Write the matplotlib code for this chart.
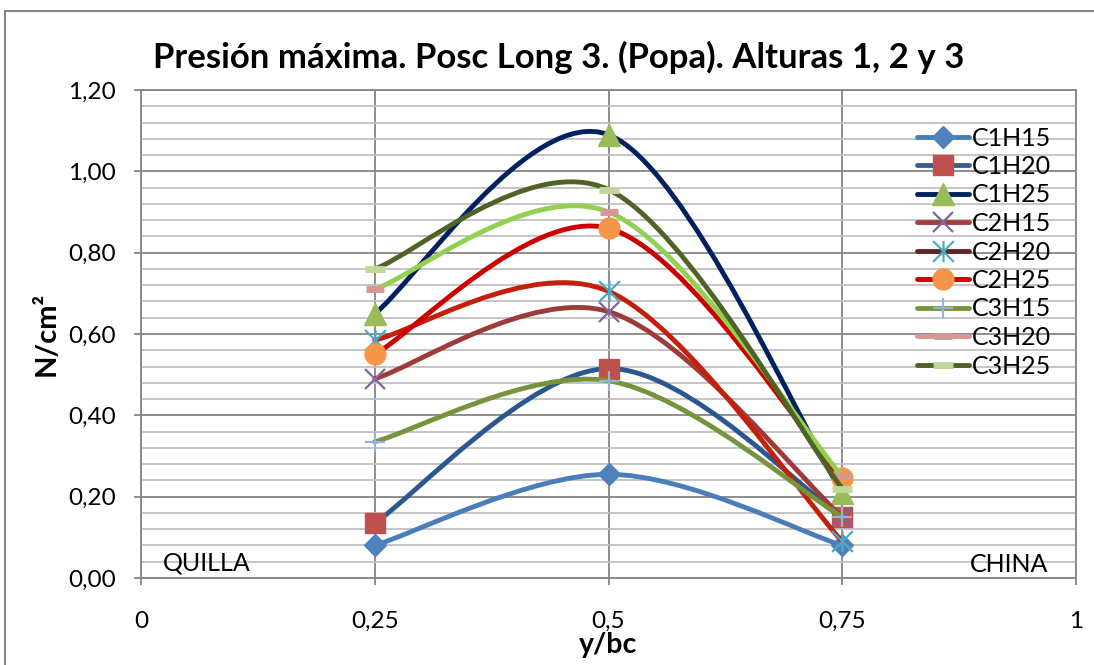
import numpy as np
import matplotlib
matplotlib.use("Agg")
import matplotlib.pyplot as plt
from matplotlib.path import Path
from matplotlib.patches import PathPatch, Rectangle
from matplotlib.lines import Line2D
from matplotlib.ticker import MultipleLocator, FixedLocator, FuncFormatter

plt.rcParams['font.family'] = ['Lato', 'DejaVu Sans']

# data
y_bc = [0.25, 0.5, 0.75]
names = ['C1H15', 'C1H20', 'C1H25', 'C2H15', 'C2H20', 'C2H25', 'C3H15', 'C3H20', 'C3H25']
c1h15 = [0.08, 0.255, 0.08]
c1h20 = [0.135, 0.515, 0.15]
c1h25 = [0.65, 1.09, 0.21]
c2h15 = [0.49, 0.655, 0.15]
c2h20 = [0.585, 0.705, 0.09]
c2h25 = [0.55, 0.86, 0.245]
c3h15 = [0.335, 0.485, 0.15]
c3h20 = [0.71, 0.90, 0.25]
c3h25 = [0.76, 0.955, 0.22]
values = [c1h15, c1h20, c1h25, c2h15, c2h20, c2h25, c3h15, c3h20, c3h25]

# excel-like asterisk marker (x with a vertical bar)
asterisk = Path([(-1, -1), (1, 1), (-1, 1), (1, -1), (0, -1), (0, 1)],
                [Path.MOVETO, Path.LINETO] * 3)

# (plot line colour, legend line colour, marker, marker face, marker edge, size, edge width)
styles = [
    ('#4A7EBB', '#4A7EBB', 'D', '#4F81BD', '#4F81BD', 11, 1),
    ('#2B5690', '#35608F', 's', '#C0504D', '#C0504D', 14, 1),
    ('#002060', '#002060', '^', '#9BBB59', '#9BBB59', 16, 1),
    ('#9E3B38', '#A0403D', 'x', 'none', '#8064A2', 15, 1.6),
    ('#C41F0A', '#632523', asterisk, 'none', '#4BACC6', 15, 1.6),
    ('#CC0000', '#CC0000', 'o', '#F79646', '#F79646', 15, 1),
    ('#77933C', '#77933C', '+', 'none', '#95B3D7', 15, 1.6),
    ('#92D050', '#D99694', '_', 'none', '#D99694', 13, 5),
    ('#4F6228', '#4F6228', '_', 'none', '#C3D69B', 15, 5),
]


def smooth_path(xs, ys):
    # catmull-rom style bezier, like excel's smoothed lines
    pts = np.column_stack([xs, ys]).astype(float)
    n = len(pts)
    verts = [pts[0]]
    codes = [Path.MOVETO]
    for i in range(n - 1):
        p0 = pts[max(i - 1, 0)]
        p1 = pts[i]
        p2 = pts[i + 1]
        p3 = pts[min(i + 2, n - 1)]
        verts += [p1 + (p2 - p0) / 6, p2 - (p3 - p1) / 6, p2]
        codes += [Path.CURVE4] * 3
    return Path(verts, codes)


fig = plt.figure(figsize=(10.94, 6.65), dpi=100)
ax = fig.add_axes([141 / 1094, 1 - 578 / 665, (1076 - 141) / 1094, (578 - 90) / 665])

grid_dark = '#868686'
grid_light = '#C0C0C0'

handles = []
for i, (name, vals, st) in enumerate(zip(names, values, styles)):
    lc, legc, mk, mfc, mec, ms, mew = st
    ax.add_patch(PathPatch(smooth_path(y_bc, vals), facecolor='none', edgecolor=lc,
                           lw=3.5, capstyle='round', joinstyle='round', zorder=3 + i * 0.1))
    ax.plot(y_bc, vals, linestyle='none', marker=mk, ms=ms, mfc=mfc, mec=mec, mew=mew,
            zorder=3.05 + i * 0.1)
    handles.append(Line2D([], [], color=legc, lw=3.5, solid_capstyle='round', marker=mk,
                          ms=ms, mfc=mfc, mec=mec, mew=mew))

ax.set_xlim(0, 1)
ax.set_ylim(0, 1.2)
ax.xaxis.set_major_locator(FixedLocator([0, 0.25, 0.5, 0.75, 1]))
ax.yaxis.set_major_locator(MultipleLocator(0.2))
ax.yaxis.set_minor_locator(MultipleLocator(0.04))
ax.xaxis.set_major_formatter(FuncFormatter(lambda v, p: ('%g' % v).replace('.', ',')))
ax.yaxis.set_major_formatter(FuncFormatter(lambda v, p: ('%.2f' % v).replace('.', ',')))

ax.grid(which='major', axis='both', color=grid_dark, lw=1.3, zorder=1)
ax.grid(which='minor', axis='y', color=grid_light, lw=1.3, zorder=0.5)
ax.set_axisbelow(True)
for s in ax.spines.values():
    s.set_color(grid_dark)
    s.set_linewidth(1.3)
ax.tick_params(axis='both', which='major', direction='out', length=5, width=1.3,
               color=grid_dark, labelsize=17.5, labelcolor='black')
ax.tick_params(axis='x', pad=19)
ax.tick_params(axis='y', pad=13)
ax.tick_params(which='minor', length=0)

fig.text(559 / 1094, 1 - 57 / 665, 'Presión máxima. Posc Long 3. (Popa). Alturas 1, 2 y 3',
         fontsize=25, fontweight='bold', ha='center', va='center')
ax.set_ylabel('N/cm²', fontsize=21, fontweight='bold', labelpad=6)
ax.set_xlabel('y/bc', fontsize=20.5, fontweight='bold', labelpad=0)

ax.text(0.0235, 0.031, 'QUILLA', transform=ax.transAxes, fontsize=18, va='center', ha='left')
ax.text(0.970, 0.027, 'CHINA', transform=ax.transAxes, fontsize=18, va='center', ha='right')

leg = ax.legend(handles, names, loc='upper left', bbox_to_anchor=(904 / 1094, 1 - 114 / 665),
                bbox_transform=fig.transFigure, frameon=False, fontsize=18,
                handlelength=2.1, handletextpad=0.1, labelspacing=0.22, borderpad=0)

fig.patches.append(Rectangle((5 / 1094, -0.1), 1.2, 1.1 - 11 / 665, transform=fig.transFigure,
                             fill=False, ec=grid_dark, lw=1.5))

fig.savefig('out.png', dpi=100)
